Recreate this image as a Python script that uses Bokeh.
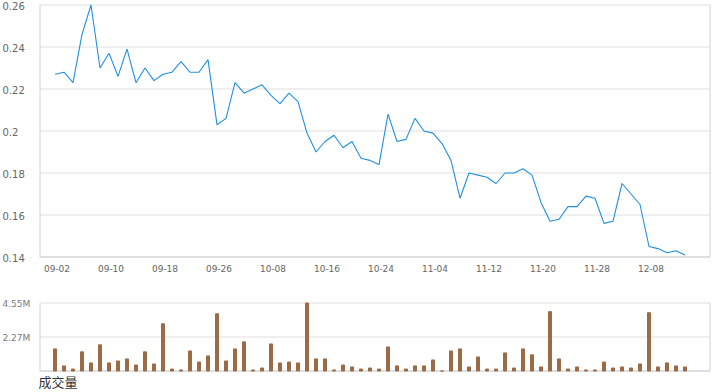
from bokeh.plotting import figure
from bokeh.layouts import column
from bokeh.models import Range1d
from bokeh.core.properties import value
from bokeh.embed import file_html
from bokeh.resources import INLINE

dates = ["09-02","09-03","09-04","09-05","09-08","09-09","09-10",
         "09-11","09-12","09-15","09-16","09-17","09-18",
         "09-19","09-22","09-23","09-24","09-25","09-26",
         "09-29","09-30","10-02","10-03","10-06","10-08",
         "10-09","10-10","10-13","10-14","10-15","10-16",
         "10-17","10-20","10-21","10-22","10-23","10-24",
         "10-27","10-28","10-30","10-31","11-03","11-04",
         "11-05","11-06","11-07","11-10","11-11","11-12",
         "11-13","11-14","11-17","11-18","11-19","11-20",
         "11-21","11-24","11-25","11-26","11-27","11-28",
         "12-01","12-02","12-03","12-04","12-05","12-08",
         "12-09","12-10","12-11","12-12"]

price = [0.227,0.228,0.223,0.246,0.260,0.230,0.237,0.226,0.239,0.223,
         0.230,0.224,0.227,0.228,0.233,0.228,0.228,0.234,0.203,0.206,
         0.223,0.218,0.220,0.222,0.217,0.213,0.218,0.214,0.199,0.190,
         0.195,0.198,0.192,0.195,0.187,0.186,0.184,0.208,0.195,0.196,
         0.206,0.200,0.199,0.194,0.186,0.168,0.180,0.179,0.178,0.175,
         0.180,0.180,0.182,0.179,0.166,0.157,0.158,0.164,0.164,0.169,
         0.168,0.156,0.157,0.175,0.170,0.165,0.145,0.144,0.142,0.143,
         0.141]

volume_m = [1.48,0.34,0.13,1.28,0.54,1.75,0.54,0.67,0.81,0.40,
            1.28,0.47,3.16,0.13,0.07,1.34,0.60,1.01,3.83,0.67,
            1.48,1.95,0.07,0.20,1.81,0.54,0.60,0.54,4.55,0.81,
            0.81,0.07,0.40,0.27,0.13,0.20,0.13,1.61,0.34,0.13,
            0.34,0.34,0.74,0.00,1.34,1.48,0.27,0.94,0.13,0.13,
            1.21,0.20,1.48,1.08,0.27,3.97,0.81,0.13,0.27,0.07,
            0.07,0.60,0.20,0.27,0.20,0.47,3.90,0.27,0.54,0.34,
            0.27]

x_tick_idx = [0, 6, 12, 18, 24, 30, 36, 42, 48, 54, 60, 66]
price_ticks = [0.14, 0.16, 0.18, 0.2, 0.22, 0.24, 0.26]
price_tick_labels = ["0.14", "0.16", "0.18", "0.2", "0.22", "0.24", "0.26"]
vol_ticks_m = [0, 2.275, 4.55]
vol_tick_labels = ["", "2.27M", "4.55M"]
volume_title = "成交量"

idx = list(range(len(price)))
volume = [v * 1e6 for v in volume_m]
vt = [v * 1e6 for v in vol_ticks_m]

# ---------------- style / geometry (pixels) ----------------
FONT = "DejaVu Sans"
GRID = "#dfdfdf"
BORDER = "#d0d0d0"
W = 720
P_H = 280                  # price panel height
V_H = 392 - P_H            # volume panel height
PX_I0, PX_PER_I = 54.5, 9.0  # pixel of first bar / spacing
FR_L, FR_R = 39.5, 709.5     # frame left / right
P_TOP_PX, P_BOT_PX = 4.5, 256.5      # price frame top / bottom
V_TOP_PX, V_BOT_PX = 22.5, 90.5      # volume frame top / bottom (in its panel)


def xd(px):
    return (px - PX_I0) / PX_PER_I


def make_y(lo, hi, top_px, bot_px, height):
    per_px = (hi - lo) / (bot_px - top_px)
    to_data = lambda px: hi - (px - top_px) * per_px
    return to_data, Range1d(to_data(height), to_data(0))


def panel(height, yrange):
    f = figure(width=W, height=height, x_range=Range1d(xd(0), xd(W)), y_range=yrange,
               output_backend="svg", toolbar_location=None,
               x_axis_location=None, y_axis_location=None, min_border=0)
    f.outline_line_color = None
    f.grid.visible = False
    f.background_fill_color = "white"
    f.border_fill_color = "white"
    return f


def frame(f, lo, hi, ticks):
    xl, xr = xd(FR_L), xd(FR_R)
    f.segment(x0=[xl] * len(ticks), y0=ticks, x1=[xr] * len(ticks), y1=ticks,
              line_color=GRID, line_width=1)
    f.segment(x0=[xl, xr, xl], y0=[lo, lo, lo], x1=[xl, xr, xr], y1=[hi, hi, lo],
              line_color=BORDER, line_width=1)


# ---------------- price panel ----------------
p_lo, p_hi = price_ticks[0], price_ticks[-1]
py, p_range = make_y(p_lo, p_hi, P_TOP_PX, P_BOT_PX, P_H)
top = panel(P_H, p_range)
frame(top, p_lo, p_hi, price_ticks)
top.line(idx, price, line_color="#1f8fe0", line_width=1.1)
top.text(x=[xd(2)] * len(price_ticks), y=price_ticks, text=price_tick_labels,
         text_align="left", text_baseline="middle", y_offset=1,
         text_font=value(FONT), text_font_size="10px", text_color="#666666")
top.text(x=x_tick_idx, y=[py(267.5)] * len(x_tick_idx), text=[dates[i] for i in x_tick_idx],
         text_align="center", text_baseline="middle", x_offset=2,
         text_font=value(FONT), text_font_size="9px", text_color="#666666")

# ---------------- volume panel ----------------
v_lo, v_hi = vt[0], vt[-1]
vy, v_range = make_y(v_lo, v_hi, V_TOP_PX, V_BOT_PX, V_H)
bot = panel(V_H, v_range)
frame(bot, v_lo, v_hi, vt)
bot.vbar(x=idx, top=volume, width=3 / PX_PER_I, color="#9c6b45")
bot.text(x=[xd(2)] * len(vt), y=vt, text=vol_tick_labels,
         text_align="left", text_baseline="middle", y_offset=1,
         text_font=value(FONT), text_font_size="9px", text_color="#7a7a7a")
bot.text(x=[xd(38)], y=[vy(101)], text=[volume_title],
         text_align="left", text_baseline="middle",
         text_font=value("Noto Sans CJK SC"), text_font_size="13px", text_color="#333333")

layout = column(top, bot, spacing=0)
open("out.html", "w").write(file_html(layout, INLINE))
